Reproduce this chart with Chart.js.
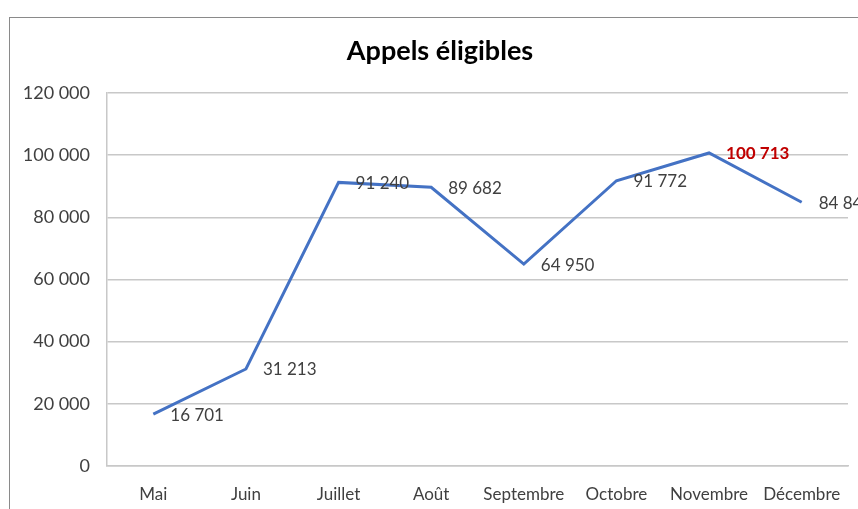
<!DOCTYPE html>
<html>
<head>
<meta charset="utf-8">
<script src="https://cdn.jsdelivr.net/npm/chart.js@4"></script>
<style>
  html, body { margin: 0; padding: 0; background: #fff; overflow: hidden; }
  #frame {
    position: absolute; left: 9px; top: 17px;
    width: 862px; height: 500px;
    border: 1.5px solid #8a8a8a;
    background: #fff;
  }
</style>
</head>
<body>
<div id="frame"><canvas id="appelsChart" width="862" height="500"></canvas></div>
<script>
var mois = ['Mai', 'Juin', 'Juillet', 'Août', 'Septembre', 'Octobre', 'Novembre', 'Décembre'];
var appels = [16701, 31213, 91240, 89682, 64950, 91772, 100713, 84844];
var graduations = [0, 20000, 40000, 60000, 80000, 100000, 120000];
var titre = 'Appels éligibles';
var indiceMax = 6; // Novembre en rouge

function espaceMilliers(v) {
    return String(v).replace(/\B(?=(\d{3})+(?!\d))/g, ' ');
}

// titre centré sur tout le cadre (pas seulement la zone utile)
var titreCadre = {
    id: 'titreCadre',
    afterDraw: function (chart) {
        var ctx = chart.ctx;
        ctx.save();
        ctx.font = 'bold 27px Lato';
        ctx.fillStyle = '#000';
        ctx.textAlign = 'center';
        ctx.textBaseline = 'alphabetic';
        ctx.fillText(titre, chart.width / 2 - 1, 42);
        ctx.restore();
    }
};

// étiquettes de données à droite des points
var etiquettes = {
    id: 'etiquettes',
    afterDatasetsDraw: function (chart) {
        var ctx = chart.ctx;
        var meta = chart.getDatasetMeta(0);
        ctx.save();
        ctx.textAlign = 'left';
        ctx.textBaseline = 'middle';
        meta.data.forEach(function (pt, i) {
            if (i === indiceMax) {
                ctx.font = 'bold 17px Lato';
                ctx.fillStyle = '#c00000';
            } else {
                ctx.font = '17px Lato';
                ctx.fillStyle = '#404040';
            }
            ctx.fillText(espaceMilliers(appels[i]), pt.x + 17, pt.y + 1);
        });
        ctx.restore();
    }
};

var ctx = document.getElementById('appelsChart').getContext('2d');
var chart = new Chart(ctx, {
    type: 'line',
    data: {
        labels: mois,
        datasets: [{
            label: titre,
            data: appels,
            borderColor: '#4472c4',
            borderWidth: 3,
            pointRadius: 0,
            tension: 0,
            fill: false
        }]
    },
    options: {
        responsive: false,
        animation: false,
        layout: { padding: { top: 75, right: 24, bottom: 0, left: 0 } },
        plugins: {
            legend: { display: false },
            tooltip: { enabled: false },
            title: { display: false }
        },
        scales: {
            x: {
                offset: true,
                grid: { display: false, drawTicks: false },
                border: { display: true, color: '#c8c8c8', width: 1.5 },
                ticks: { color: '#404040', font: { family: 'Lato', size: 17 }, padding: 18, maxRotation: 0, autoSkip: false },
                afterFit: function (s) { s.height = 52; }
            },
            y: {
                min: 0,
                max: 120000,
                afterBuildTicks: function (s) {
                    s.ticks = graduations.map(function (v) { return { value: v }; });
                },
                grid: { color: '#c8c8c8', lineWidth: 1.5, drawTicks: false },
                border: { display: true, color: '#c8c8c8', width: 1.5 },
                ticks: {
                    color: '#404040',
                    font: { family: 'Lato', size: 18 },
                    padding: 17,
                    callback: function (v) { return espaceMilliers(v); }
                },
                afterFit: function (s) { s.width = 97; }
            }
        }
    },
    plugins: [etiquettes, titreCadre]
});
</script>
</body>
</html>
